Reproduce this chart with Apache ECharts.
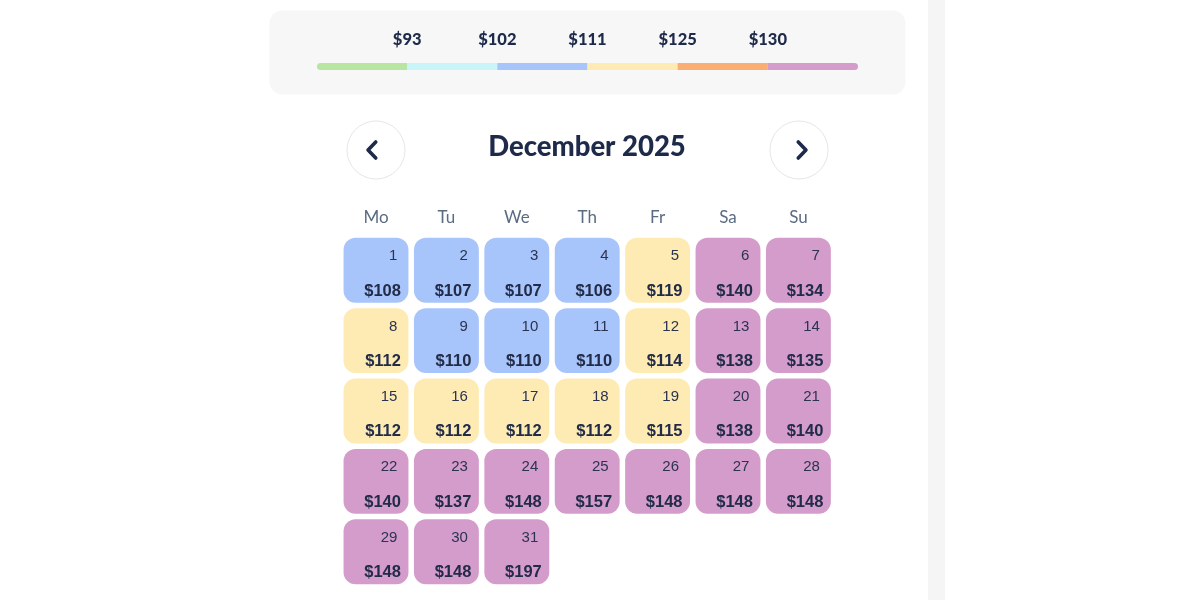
<!DOCTYPE html>
<html>
<head>
<meta charset="utf-8">
<style>html,body{margin:0;padding:0;background:#fff}#c{width:1200px;height:600px}</style>
<script src="https://cdn.jsdelivr.net/npm/echarts@6/dist/echarts.min.js"></script>
</head>
<body>
<div id="c"></div>
<script>
var month = '2025-12';
var titleText = 'December 2025';
var weekdayNames = ['Su','Mo','Tu','We','Th','Fr','Sa'];
var prices = [108,107,107,106,119,140,134,112,110,110,110,114,138,135,112,112,112,112,115,138,140,140,137,148,157,148,148,148,148,148,197];
var tierThresholds = [93,102,111,125,130];
var tierColors = ['#b8e6a2','#c9f4f8','#a7c5fb','#fdebb3','#faae74','#d49ccb'];
var tierSpan = [1,1,1,1,1,1];

var DARK = '#1e2a4a';
function colorFor(v){
  var i = 0;
  while (i < tierThresholds.length && v >= tierThresholds[i]) i++;
  return tierColors[i];
}
var dayData = prices.map(function(p,i){
  var d = i+1;
  return [month+'-'+(d<10?'0'+d:d), p, d];
});
var tierSeries = tierColors.map(function(col,i){
  var first = i===0, last = i===tierColors.length-1;
  return {
    type:'bar', stack:'tiers', xAxisIndex:0, yAxisIndex:0, silent:true,
    barWidth:7, data:[tierSpan[i]],
    itemStyle:{color:col, borderRadius:[first?4:0,last?4:0,last?4:0,first?4:0]}
  };
});
function chevron(x,y,dir){
  var w=5.5*dir, h=8;
  return {type:'polyline', silent:true, z:5, shape:{points:[[x-w/2,y-h],[x+w*0.9,y],[x-w/2,y+h]]},
    style:{stroke:DARK,lineWidth:3.6,fill:null,lineCap:'round',lineJoin:'round'}};
}
var chart = echarts.init(document.getElementById('c'),null,{renderer:'canvas'});
chart.setOption({
  animation:false,
  backgroundColor:'#fff',
  title:{text:titleText,left:582,top:128,textAlign:'center',
    textStyle:{fontFamily:'Lato',fontWeight:900,fontSize:27.5,color:DARK}},
  graphic:[
    {type:'rect',silent:true,z:-10,shape:{x:269.5,y:10.5,width:636,height:84,r:13},style:{fill:'#f7f7f7'}},
    {type:'rect',silent:true,z:-10,shape:{x:928,y:0,width:17,height:600},style:{fill:'#f5f5f5'}},
    {type:'circle',silent:true,shape:{cx:376,cy:150,r:29},style:{fill:'#fff',stroke:'#e6e6e8',lineWidth:1}},
    {type:'circle',silent:true,shape:{cx:799,cy:150,r:29},style:{fill:'#fff',stroke:'#e6e6e8',lineWidth:1}},
    chevron(373,150,-1),
    chevron(801,150,1)
  ],
  grid:{left:317,width:541,top:63,height:7},
  xAxis:{type:'value',min:0,max:6,interval:1,position:'top',
    axisLine:{show:false},axisTick:{show:false},splitLine:{show:false},
    axisLabel:{margin:15,fontFamily:'Lato',fontWeight:900,fontSize:16.5,color:DARK,
      formatter:function(v){var t=tierThresholds[v-1];return t?'$'+t:'';}}},
  yAxis:{type:'category',data:['tiers'],show:false},
  calendar:{
    range:month,orient:'vertical',left:340.8,top:235,cellSize:[70.4,70.4],
    splitLine:{show:false},
    itemStyle:{color:'transparent',borderWidth:0},
    monthLabel:{show:false},yearLabel:{show:false},
    dayLabel:{firstDay:1,nameMap:weekdayNames,position:'start',margin:9,
      fontFamily:'Lato',fontSize:17,color:'#5b6b82'}
  },
  series:tierSeries.concat([{
    type:'custom',coordinateSystem:'calendar',silent:true,
    data:dayData,
    renderItem:function(params,api){
      var c = api.coord(api.value(0));
      var w = params.coordSys.cellWidth-5.5, h = params.coordSys.cellHeight-5.5;
      var x = c[0]-w/2, y = c[1]-h/2;
      var v = api.value(1);
      return {type:'group',children:[
        {type:'rect',shape:{x:x,y:y,width:w,height:h,r:12},style:{fill:colorFor(v)}},
        {type:'text',style:{x:x+w-11,y:y+18.3,text:String(api.value(2)),align:'right',verticalAlign:'middle',
          fontFamily:'Liberation Sans',fontSize:15,fill:'#2a3350'}},
        {type:'text',style:{x:x+w-7.5,y:y+53.3,text:'$'+v,align:'right',verticalAlign:'middle',
          fontFamily:'Liberation Sans',fontWeight:'bold',fontSize:16.5,fill:'#222b48'}}
      ]};
    }
  }])
});
</script>
</body>
</html>
